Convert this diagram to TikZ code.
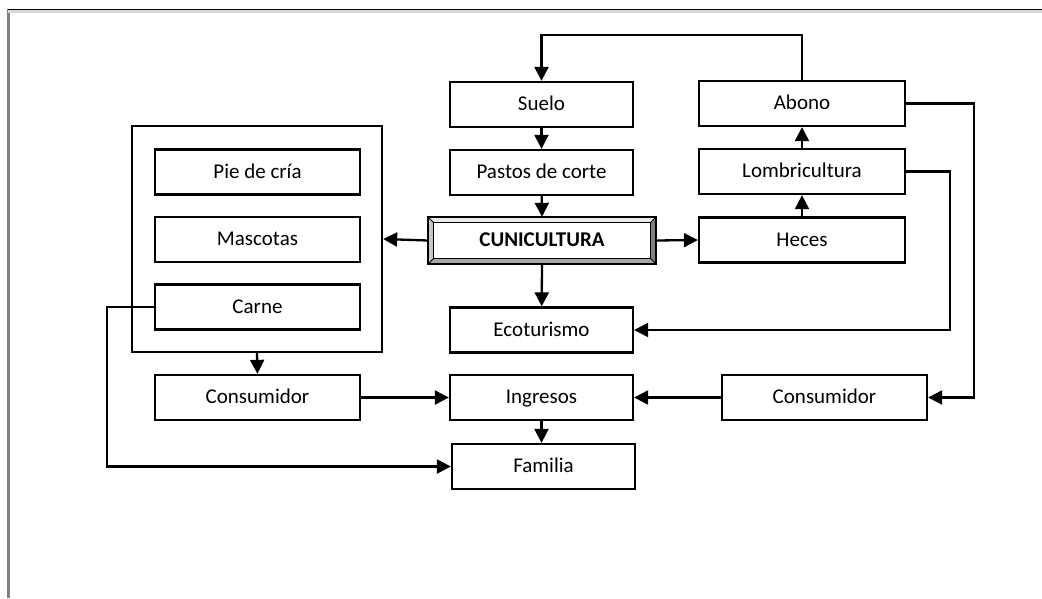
\documentclass[tikz,border=0pt]{standalone}
\usepackage{fontspec}
\setmainfont{Carlito}
\usetikzlibrary{arrows.meta,calc}
\tikzset{
  box/.style={draw, line width=2.3pt, inner sep=0pt, minimum height=45pt,
    text height=15pt, text depth=3pt,
    font=\fontsize{21}{25}\selectfont},
  colw/.style={box, minimum width=183pt},
  sidew/.style={box, minimum width=206pt},
  arr/.style={line width=2.3pt, -{Triangle[length=14pt,width=14pt]}},
}
\begin{document}
\begin{tikzpicture}[x=1pt,y=-1pt]
\useasboundingbox (0,0) rectangle (1042,598);

% page frame
\draw[line width=2.5pt, black!50] (8.5,9) -- (8.5,598);
\draw[line width=2.5pt, black!15] (8,11.5) -- (1042,11.5);
\draw[line width=1.5pt] (8,9.5) -- (1042,9.5);

% central column
\node[colw] (suelo)  at (541.5,104.5) {Suelo};
\node[colw] (pastos) at (541.5,172.5) {Pastos de corte};
\node[inner sep=0pt, minimum width=228pt, minimum height=47pt,
      text height=15pt, text depth=3pt,
      font=\fontsize{21}{25}\selectfont\bfseries] (cuni) at (542,240.5) {CUNICULTURA};
\node[colw] (eco)    at (541.5,330)   {Ecoturismo};
\node[colw] (ingr)   at (541.5,397.5) {Ingresos};
\node[colw] (fam)    at (543.5,466.5) {Familia};

% right column
\node[sidew] (abono) at (802,103.5) {Abono};
\node[sidew] (lomb)  at (802,171.5) {Lombricultura};
\node[sidew] (heces) at (802,240)   {Heces};
\node[box, minimum width=205pt] (consR) at (824.5,397.5) {Consumidor};

% left group
\node[draw, line width=2.3pt, minimum width=250pt, minimum height=226pt] (grp) at (257,239) {};
\node[box, minimum width=205pt] (pie)   at (257.5,172)   {Pie de cría};
\node[box, minimum width=205pt] (masc)  at (257.5,239.5) {Mascotas};
\node[box, minimum width=205pt] (carne) at (257.5,307)   {Carne};
\node[box, minimum width=205pt] (consL) at (257.5,397.5) {Consumidor};

% bevelled frame of the central node
\coordinate (o1) at (cuni.north west);
\coordinate (o2) at (cuni.north east);
\coordinate (o3) at (cuni.south east);
\coordinate (o4) at (cuni.south west);
\coordinate (i1) at ($(o1)+(6,6)$);
\coordinate (i2) at ($(o2)+(-6,6)$);
\coordinate (i3) at ($(o3)+(-6,-6)$);
\coordinate (i4) at ($(o4)+(6,-6)$);
\fill[black!8]  (o1) -- (o2) -- (i2) -- (i1) -- cycle;
\fill[black!22] (o1) -- (i1) -- (i4) -- (o4) -- cycle;
\fill[black!35] (o4) -- (i4) -- (i3) -- (o3) -- cycle;
\fill[black!50] (o2) -- (o3) -- (i3) -- (i2) -- cycle;
\draw[line width=1pt] (o1) -- (i1) (o2) -- (i2) (o3) -- (i3) (o4) -- (i4);
\draw[line width=1.3pt] (i1) rectangle (i3);
\draw[line width=2.3pt] (o1) rectangle (o3);

% helper levels for routed connectors
\coordinate (ytop) at (0,35);
\coordinate (xl) at (950,0);
\coordinate (xa) at (974,0);
\coordinate (xc) at (107,0);

% connectors
\draw[arr] (abono.north) -- (abono.north |- ytop) -| (suelo.north);
\draw[arr] (suelo) -- (pastos);
\draw[arr] (pastos) -- (cuni.north);
\draw[arr] (cuni.west) -- (grp.east);
\draw[arr] (cuni.east) -- (heces.west);
\draw[arr] (heces) -- (lomb);
\draw[arr] (lomb) -- (abono);
\draw[arr] (cuni.south) -- (eco);
\draw[arr] (lomb.east) -- (lomb.east -| xl) |- (eco.east);
\draw[arr] (abono.east) -- (abono.east -| xa) |- (consR.east);
\draw[arr] (grp.south) -- (consL.north);
\draw[arr] (consL) -- (ingr);
\draw[arr] (consR) -- (ingr);
\draw[arr] (ingr.south) -- (ingr.south |- fam.north);
\draw[arr] (carne.west) -- (carne.west -| xc) |- (fam.west);
\end{tikzpicture}
\end{document}
